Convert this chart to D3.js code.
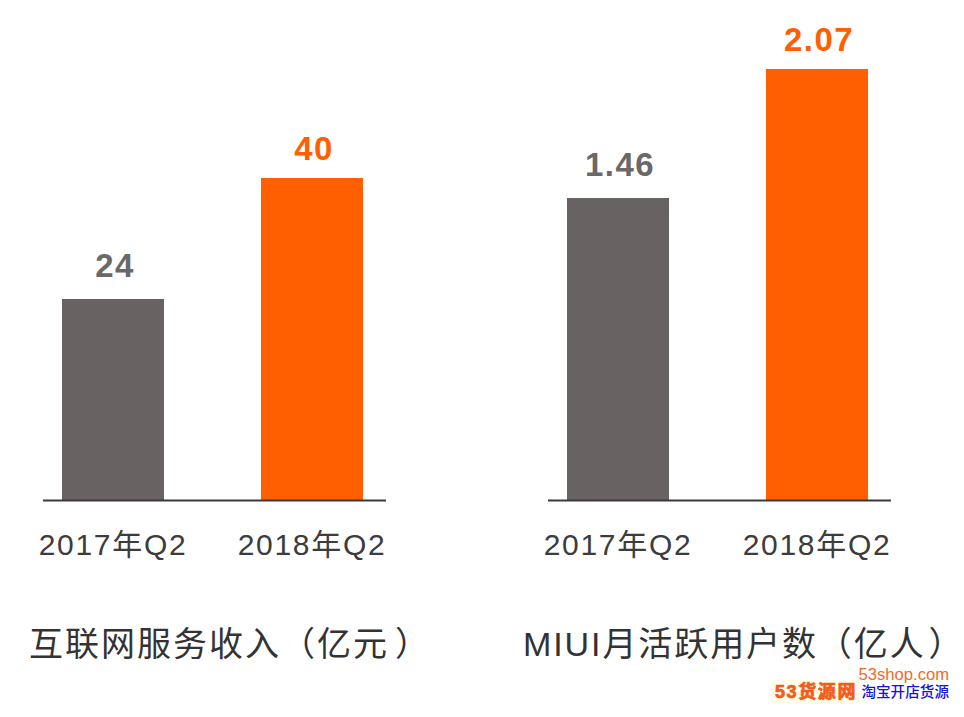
<!DOCTYPE html>
<html><head><meta charset="utf-8">
<script src="https://d3js.org/d3.v7.min.js"></script>
<style>html,body{margin:0;padding:0;background:#fff}svg{display:block}</style>
</head><body>
<svg id="c" width="964" height="717"></svg>
<script>
const periods = ["2017年Q2","2018年Q2"];
const revenueLabels = ["24","40"];
const revenueValues = [24,40];
const miuiLabels = ["1.46","2.07"];
const miuiValues = [1.46,2.07];
const barColors = ["#686362","#ff5f00"];
const labelColors = ["#6a6868","#ff5f00"];
const labelGaps = [22,18];
const titles = ["互联网服务收入（亿元）","MIUI月活跃用户数（亿人）"];
const latinCjk = "'Liberation Sans','Noto Sans CJK SC',sans-serif";
const baseline = 500;
const svg = d3.select("#c");
function panel(x0, x1, x, vals, labels, yScale, title, titleX, titleSpacing, closeDx){
  const g = svg.append("g");
  g.selectAll("rect").data(vals).join("rect")
    .attr("x",(d,i)=>x(periods[i])).attr("width",x.bandwidth())
    .attr("y",d=>yScale(d)).attr("height",d=>baseline-yScale(d))
    .attr("fill",(d,i)=>barColors[i]);
  g.append("line").attr("x1",x0).attr("x2",x1).attr("y1",baseline+0.5).attr("y2",baseline+0.5).attr("stroke","#3a3a3a").attr("stroke-width",2);
  g.selectAll("text.v").data(labels).join("text").attr("class","v")
    .attr("x",(d,i)=>x(periods[i])+x.bandwidth()/2+2).attr("y",(d,i)=>yScale(vals[i])-labelGaps[i])
    .attr("text-anchor","middle").attr("font-family","'Liberation Sans',sans-serif").attr("font-weight",700).attr("font-size",33).attr("letter-spacing",1.4)
    .attr("fill",(d,i)=>labelColors[i]).text(d=>d);
  g.selectAll("text.c").data(periods).join("text").attr("class","c")
    .attr("x",d=>x(d)+x.bandwidth()/2).attr("y",555).attr("text-anchor","middle")
    .attr("font-family",latinCjk).attr("font-size",30).attr("letter-spacing",1.7).attr("fill","#3c3c3c").text(d=>d);
  const chars = Array.from(title);
  g.append("text").attr("x",titleX).attr("y",656).attr("font-family",latinCjk).attr("font-size",34).attr("letter-spacing",titleSpacing).attr("fill","#333")
    .attr("dx",chars.map((c,i)=>i===chars.length-1?closeDx:0).join(" ")).text(title);
}
const xRev = d3.scaleBand().domain(periods).range([62,363]).paddingInner(97/199).paddingOuter(0);
const xMiui = d3.scaleBand().domain(periods).range([567,868]).paddingInner(97/199).paddingOuter(0);
// bars stand on a slightly offset baseline in the picture
const yRev = d3.scaleLinear().domain([-2.58,40]).range([baseline,178]);
const yMiui = d3.scaleLinear().domain([0.032,2.07]).range([baseline,69]);
panel(43,386,xRev,revenueValues,revenueLabels,yRev,titles[0],29,2,6);
panel(548,891,xMiui,miuiValues,miuiLabels,yMiui,titles[1],523,1.9,3);
svg.append("rect").attr("x",771).attr("y",680).attr("width",88).attr("height",24).attr("fill","#fffdea");
svg.append("text").attr("x",949).attr("y",680).attr("text-anchor","end").attr("font-family","'Liberation Sans',sans-serif").attr("font-size",16.6).attr("fill","#f26a2a").text("53shop.com");
svg.append("text").attr("x",775).attr("y",698).attr("font-family",latinCjk).attr("font-weight",700).attr("font-size",18).attr("letter-spacing",1.6).attr("stroke","#f55a1a").attr("stroke-width",0.7).attr("fill","#f55a1a").text("53货源网");
svg.append("text").attr("x",949).attr("y",697).attr("text-anchor","end").attr("font-family","'Noto Sans CJK SC',sans-serif").attr("font-weight",500).attr("font-size",14.6).attr("fill","#1414d8").text("淘宝开店货源");
</script>
</body></html>
